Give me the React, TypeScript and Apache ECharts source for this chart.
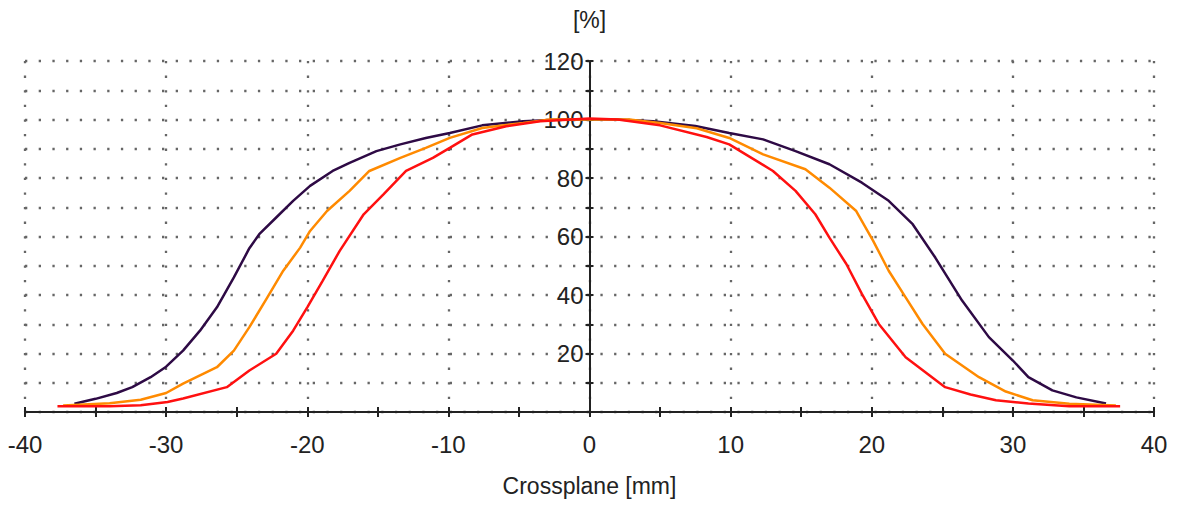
import React, { useEffect, useRef } from "react";
import * as echarts from "echarts";

// Crossplane dose profiles: [position in mm, relative dose in %]
const profileWide: [number, number][] = [
  [-36.5, 2.8], [-35, 4.5], [-33.5, 6.5], [-32.4, 8.5], [-31.1, 11.9], [-30, 15.5],
  [-28.8, 21], [-27.6, 27.8], [-26.4, 35.8], [-25.2, 46], [-24.1, 56], [-23.4, 60.8],
  [-22.2, 66.5], [-21, 72.2], [-19.8, 77.3], [-18.2, 82.4], [-17, 85.2], [-15.1, 89.2],
  [-13.4, 91.5], [-11.6, 93.7], [-9.9, 95.4], [-7.6, 98], [-4.7, 99.4], [-2, 100],
  [0, 100], [2, 100], [4.5, 99.4], [7.5, 97.8], [9.9, 95.4], [12.3, 93.2], [14.6, 89.2],
  [17, 84.7], [19.3, 78.4], [21.2, 72.2], [22.9, 64.2], [24.5, 52.8], [26.4, 38.1],
  [28.3, 25.6], [30, 17.6], [31.1, 11.9], [32.8, 7.4], [34.5, 5], [36.6, 2.9],
];

const profileMedium: [number, number][] = [
  [-37.3, 2.2], [-34, 3], [-31.8, 4.2], [-30, 6.5], [-28.8, 9.7], [-27.6, 12.5],
  [-26.4, 15.3], [-25.2, 21], [-24.1, 29], [-22.9, 38.6], [-21.7, 48.3], [-20.5, 56.2],
  [-19.8, 61.9], [-18.6, 68.7], [-17, 75.6], [-15.6, 82.4], [-13.4, 86.9], [-11.6, 90.3],
  [-9.9, 93.7], [-7.6, 97.1], [-4.7, 98.8], [-2.8, 100], [0, 100], [2.8, 100],
  [5, 98.8], [7.6, 97], [9.9, 93.7], [12.3, 88.1], [15.3, 83], [17, 76.7], [18.9, 68.7],
  [20.1, 58.5], [21.2, 48.3], [22.4, 39.2], [23.6, 30.1], [25.2, 19.9], [27.6, 11.9],
  [29.5, 7], [31.4, 4], [34, 2.8], [37.3, 2.2],
];

const profileNarrow: [number, number][] = [
  [-37.7, 2], [-34, 2], [-31.8, 2.3], [-29.9, 3.4], [-28.8, 4.6], [-25.7, 8.5],
  [-24.1, 14.2], [-22.2, 19.9], [-21, 27.8], [-20, 35.8], [-18.9, 44.9], [-17.7, 55.1],
  [-16, 67.6], [-14.6, 74.4], [-13, 82.4], [-11.1, 86.9], [-9.9, 90.3], [-8.3, 94.9],
  [-5.9, 97.7], [-3.5, 99.4], [0, 100.3], [2, 100], [5, 98], [8.3, 94], [9.9, 91.5],
  [13, 82.4], [14.6, 75.6], [16, 67.6], [17, 59.6], [18.2, 50.6], [19.3, 40.4],
  [20.5, 30.1], [22.4, 18.7], [25.2, 8.5], [27, 6], [28.8, 4], [31.1, 2.9], [34, 2],
  [37.6, 2],
];

const profileColors = ["#2e0a45", "#ff8a00", "#ff1010"];

const xTitle = "Crossplane [mm]";
const yTitle = "[%]";

const FONT = "'Liberation Sans', Arial, sans-serif";
const TEXT = "#222";
const AXIS = "#222";
const DOT = "#666666";

const WIDTH = 1180;
const HEIGHT = 509;
const GRID = { left: 25, right: 26, top: 61, bottom: 97 };
// horizontal distance from the grid's left edge to x = 0 (range is symmetric)
const ZERO_SHIFT = (WIDTH - GRID.left - GRID.right) / 2;

export default function App() {
  const ref = useRef<HTMLDivElement>(null);

  useEffect(() => {
    if (!ref.current) return;
    const chart = echarts.init(ref.current, undefined, { renderer: "svg" });

    const gridBase = { ...GRID, containLabel: false, outerBoundsMode: "none" };

    chart.setOption({
      animation: false,
      backgroundColor: "#ffffff",
      textStyle: { fontFamily: FONT },
      grid: [{ ...gridBase }, { ...gridBase }],
      xAxis: [
        {
          type: "value",
          gridIndex: 0,
          min: -40,
          max: 40,
          interval: 10,
          name: xTitle,
          nameLocation: "middle",
          nameGap: 62,
          nameTextStyle: { fontSize: 23, color: TEXT, fontFamily: FONT },
          axisLine: { onZero: false, lineStyle: { color: AXIS, width: 2 } },
          axisTick: { show: true, length: 5, lineStyle: { color: AXIS, width: 2 } },
          minorTick: { show: true, splitNumber: 2, length: 5, lineStyle: { color: AXIS, width: 2 } },
          axisLabel: { fontSize: 24, color: TEXT, margin: 20, fontFamily: FONT },
          splitLine: {
            show: true,
            lineStyle: { color: DOT, width: 2.3, type: [2.3, 12.3] },
          },
        },
        {
          type: "value",
          gridIndex: 1,
          min: -40,
          max: 40,
          interval: 10,
          axisLine: { show: false, onZero: false },
          axisTick: { show: true, inside: true, length: 5, lineStyle: { color: AXIS, width: 2 } },
          minorTick: { show: true, splitNumber: 2, length: 5, lineStyle: { color: AXIS, width: 2 } },
          axisLabel: { show: false },
          splitLine: { show: false },
        },
      ],
      yAxis: [
        {
          type: "value",
          gridIndex: 0,
          position: "left",
          offset: -ZERO_SHIFT,
          min: 0,
          max: 120,
          interval: 10,
          name: yTitle,
          nameLocation: "end",
          nameGap: 30,
          nameTextStyle: { fontSize: 23, color: TEXT, fontFamily: FONT, align: "center" },
          axisLine: { onZero: false, lineStyle: { color: AXIS, width: 2 } },
          axisTick: { show: true, length: 4, lineStyle: { color: AXIS, width: 2 } },
          axisLabel: {
            fontSize: 24,
            color: TEXT,
            margin: 6,
            fontFamily: FONT,
            formatter: (v: number) => (v > 0 && v % 20 === 0 ? String(v) : ""),
          },
          splitLine: {
            show: true,
            lineStyle: { color: DOT, width: 2.3, type: [2.3, 11.4] },
          },
        },
        {
          type: "value",
          gridIndex: 1,
          position: "left",
          offset: -ZERO_SHIFT,
          min: 0,
          max: 120,
          interval: 10,
          axisLine: { show: false, onZero: false },
          axisTick: { show: true, inside: true, length: 4, lineStyle: { color: AXIS, width: 2 } },
          axisLabel: { show: false },
          splitLine: { show: false },
        },
      ],
      series: [profileWide, profileMedium, profileNarrow].map((data, i) => ({
        type: "line",
        xAxisIndex: 0,
        yAxisIndex: 0,
        data,
        showSymbol: false,
        symbol: "none",
        smooth: false,
        z: 5,
        lineStyle: { color: profileColors[i], width: 2.5 },
      })),
    });

    return () => chart.dispose();
  }, []);

  return (
    <div
      ref={ref}
      style={{ position: "absolute", left: 0, top: 0, width: WIDTH, height: HEIGHT }}
    />
  );
}
